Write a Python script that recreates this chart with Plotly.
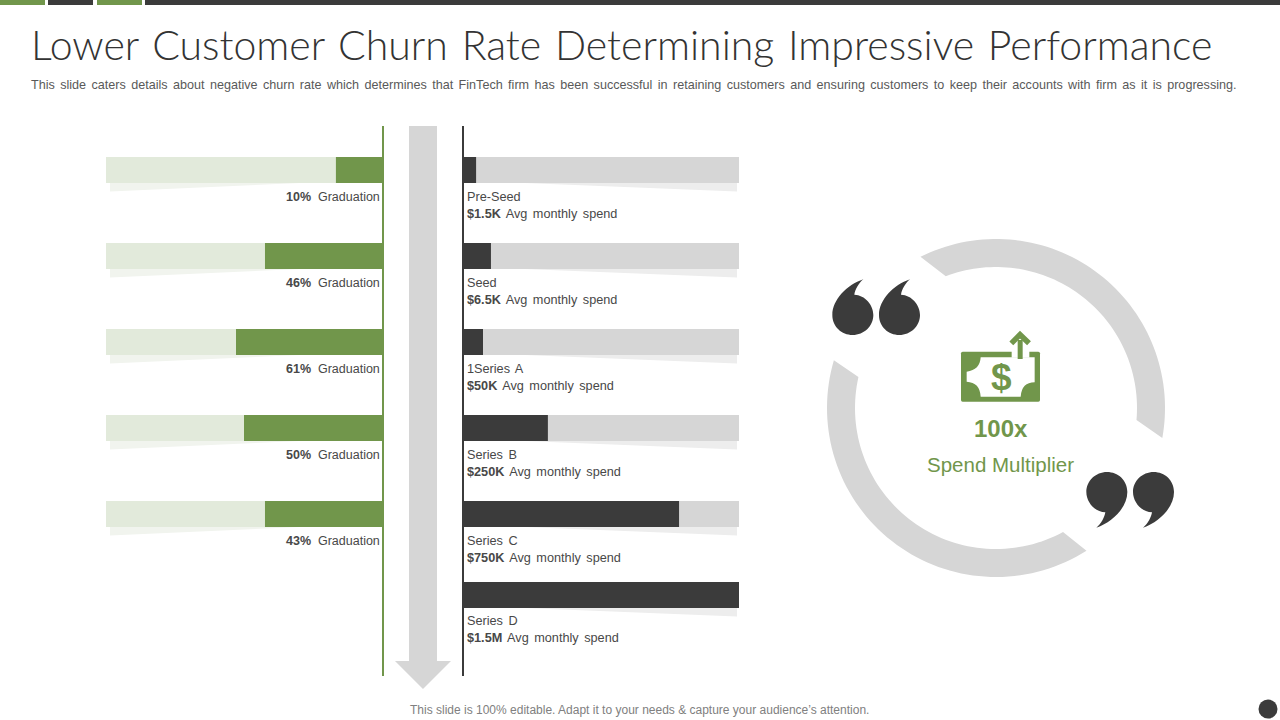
import numpy as np
import plotly.graph_objects as go

# data
stages = ['Pre-Seed', 'Seed', '1Series A', 'Series B', 'Series C', 'Series D']
spend = ['$1.5K', '$6.5K', '$50K', '$250K', '$750K', '$1.5M']
spend_bar = [4.4, 9.8, 6.9, 30.5, 78.2, 100]
grad_label = ['10%', '46%', '61%', '50%', '43%']
grad_bar = [16.7, 42.4, 52.9, 50, 42.4]

title = 'Lower Customer Churn Rate Determining Impressive Performance'
subtitle = ('This slide caters details about negative churn rate which determines that FinTech firm '
            'has been successful in retaining customers and ensuring customers to keep their accounts '
            'with firm as it is progressing.')
footer = 'This slide is 100% editable. Adapt it to your needs & capture your audience\u2019s attention.'

green = '#71964B'
pale = '#E2EADB'
dark = '#3B3B3B'
grey = '#D6D6D6'
text_col = '#484848'
W, H = 1280, 720
ROW = 86.0
BAR = 26 / ROW
# the last row sits a little closer than the others
shift = [0, 0, 0, 0, 0, -5 / ROW]
y_range = [(676 - 170) / ROW, -(170 - 126) / ROW]


def px(x, y):
    return x / W, 1 - y / H


def path(points, close=True):
    s = ''
    for i, (x, y) in enumerate(points):
        u, v = px(x, y)
        s += ('M' if i == 0 else 'L') + f'{u:.5f},{v:.5f} '
    return s + ('Z' if close else '')


def poly(points, color):
    return dict(type='path', xref='paper', yref='paper', path=path(points),
                fillcolor=color, line=dict(width=0))


def curve(cmds, color, fx=lambda p: p):
    # cmds: list of (letter, points) in slide pixels
    s = ''
    for letter, pts in cmds:
        s += letter
        s += ' '.join('%.5f,%.5f' % px(*fx(p)) for p in pts) + ' '
    return dict(type='path', xref='paper', yref='paper', path=s + 'Z',
                fillcolor=color, line=dict(width=0))


def ring_arc(start_o, end_o, start_i, end_i, cx=996, cy=408, ro=169, ri=141):
    a = np.radians(np.linspace(start_o, end_o, 70))
    b = np.radians(np.linspace(end_i, start_i, 70))
    outer = [(cx + ro * np.cos(t), cy + ro * np.sin(t)) for t in a]
    inner = [(cx + ri * np.cos(t), cy + ri * np.sin(t)) for t in b]
    return poly(outer + inner, grey)


def angle(x, y, cx=996, cy=408):
    return np.degrees(np.arctan2(y - cy, x - cx))


fig = go.Figure()

# left panel
fig.add_trace(go.Bar(y=stages[:5], x=[100] * 5, orientation='h', marker=dict(color=pale, line=dict(width=0)),
                     width=BAR, offset=[-BAR / 2 + s for s in shift[:5]], xaxis='x', yaxis='y', hoverinfo='skip'))
fig.add_trace(go.Bar(y=stages[:5], x=grad_bar, orientation='h', marker=dict(color=green, line=dict(width=0)),
                     width=BAR, offset=[-BAR / 2 + s for s in shift[:5]], xaxis='x', yaxis='y'))
# right panel
fig.add_trace(go.Bar(y=stages, x=[100] * 6, orientation='h', marker=dict(color=grey, line=dict(width=0)),
                     width=BAR, offset=[-BAR / 2 + s for s in shift], xaxis='x2', yaxis='y2', hoverinfo='skip'))
fig.add_trace(go.Bar(y=stages, x=spend_bar, orientation='h', marker=dict(color=dark, line=dict(width=0)),
                     width=BAR, offset=[-BAR / 2 + s for s in shift], xaxis='x2', yaxis='y2'))

shapes = []

# top strip
for x0, x1, c in [(0, 45, green), (48, 93, dark), (97, 142, green), (145, W, dark)]:
    shapes.append(poly([(x0, 0), (x1, 0), (x1, 5), (x0, 5)], c))

# faint wedges under the bars
for i in range(5):
    top = 183 + ROW * i
    shapes.append(poly([(110, top), (300, top), (110, top + 8.5)], '#F1F4EE'))
for i in range(6):
    top = 183 + ROW * i + shift[i] * ROW
    shapes.append(poly([(737, top), (737, top + 8.5), (525, top)], '#EDEDED'))

# big arrow
shapes.append(poly([(409, 126), (437, 126), (437, 661), (451, 661), (423, 689), (395, 661), (409, 661)], grey))

# ring
shapes.append(ring_arc(angle(920.7, 257.3), angle(1162, 438), angle(945.7, 276), angle(1136.7, 420)))
shapes.append(ring_arc(angle(1086, 550), angle(833, 360) + 360, angle(1063, 532), angle(858, 377) + 360))


# quote marks, one glyph in slide pixels
def z2(p):
    return 800 + p[0] / 3, 220 + p[1] / 3


glyph = [('M', [(190, 178)]),
         ('C', [(140, 195), (97, 240), (97, 285)]),
         ('C', [(97, 320), (125, 345), (158, 345)]),
         ('C', [(192, 345), (220, 318), (220, 285)]),
         ('C', [(220, 255), (195, 225), (163, 224)]),
         ('C', [(165, 210), (175, 190), (190, 178)])]
for dx in (0, 140):
    shapes.append(curve(glyph, dark, lambda p, d=dx: z2((p[0] + d, p[1]))))
    shapes.append(curve(glyph, dark, lambda p, d=dx: z2((1219 - p[0] - d, 1101 - p[1]))))


# money icon
def z5(p):
    return 950 + p[0] / 3, 325 + p[1] / 3


shapes.append(curve([('M', [(38, 80)]), ('L', [(265, 80)]), ('Q', [(270, 80), (270, 85)]), ('L', [(270, 225)]),
                     ('Q', [(270, 230), (265, 230)]), ('L', [(38, 230)]), ('Q', [(33, 230), (33, 225)]),
                     ('L', [(33, 85)]), ('Q', [(33, 80), (38, 80)])], green, z5))
shapes.append(curve([('M', [(92, 97)]), ('L', [(254, 97)]), ('L', [(254, 172)]), ('Q', [(215, 172), (212, 215)]),
                     ('L', [(92, 215)]), ('Q', [(90, 172), (50, 170)]), ('L', [(50, 140)]),
                     ('Q', [(90, 135), (92, 97)])], 'white', z5))
shapes.append(curve([('M', [(185, 72)]), ('L', [(238, 72)]), ('L', [(238, 98)]), ('L', [(185, 98)])], 'white', z5))
shapes.append(curve([('M', [(203, 45)]), ('L', [(218, 45)]), ('L', [(218, 102)]), ('L', [(203, 102)])], green, z5))
shapes.append(dict(type='path', xref='paper', yref='paper',
                   path=path([z5((184, 55)), z5((210, 29)), z5((237, 55))], close=False),
                   line=dict(color=green, width=5.5)))

# dot bottom right
x0, y0 = px(1258.5, 699.5)
x1, y1 = px(1277.5, 718.5)
shapes.append(dict(type='circle', xref='paper', yref='paper', x0=x0, y0=y0, x1=x1, y1=y1,
                   fillcolor=dark, line=dict(width=0)))

annotations = []


def slide_text(x, y, text, size, color=text_col, family='Liberation Sans', anchor='left', weight=None):
    u, v = px(x, y)
    font = dict(size=size, color=color, family=family)
    if weight:
        font['weight'] = weight
    annotations.append(dict(x=u, y=v, xref='paper', yref='paper', text=text, showarrow=False,
                            xanchor=anchor, yanchor='middle', align=anchor, font=font))


slide_text(28.5, 44, title, 41, '#333333', 'Lato', weight=300)
slide_text(29, 85, subtitle, 12.6, '#595959')
slide_text(639, 710, footer, 12, '#808080', anchor='center')

slide_text(1001, 428, '<b>100x</b>', 24, green, anchor='center')
slide_text(1000.5, 464.5, 'Spend Multiplier', 20.5, green, anchor='center')
slide_text(1001, 377, '<b>$</b>', 37, green, anchor='center')

for i, lab in enumerate(grad_label):
    annotations.append(dict(x=0, y=stages[i], xref='x', yref='y', xshift=0, yshift=-27, showarrow=False,
                            xanchor='right', yanchor='middle', align='right',
                            text=f'<b>{lab}</b>  Graduation',
                            font=dict(size=12.5, color=text_col, family='Liberation Sans')))
for i, st in enumerate(stages):
    annotations.append(dict(x=0, y=st, xref='x2', yref='y2', xshift=1, yshift=-29 if i == 5 else -35,
                            showarrow=False, xanchor='left', yanchor='middle', align='left',
                            text=f'{st}<br><b>{spend[i]}</b> Avg monthly spend',
                            font=dict(size=12.7, color=text_col, family='Liberation Sans')))

y_dom = [1 - 676 / H, 1 - 126 / H]
fig.update_layout(
    width=W, height=H, margin=dict(l=0, r=0, t=0, b=0), paper_bgcolor='white', plot_bgcolor='white',
    barmode='overlay', showlegend=False, shapes=shapes, annotations=annotations,
    xaxis=dict(domain=[106 / W, 382 / W], range=[100, 0], visible=False, fixedrange=True),
    xaxis2=dict(domain=[464 / W, 739 / W], range=[0, 100], visible=False, fixedrange=True),
    yaxis=dict(domain=y_dom, anchor='x', side='right', type='category', categoryorder='array', categoryarray=stages,
               range=y_range, showgrid=False, zeroline=False, showticklabels=False, ticks='',
               showline=True, linecolor=green, linewidth=2, fixedrange=True),
    yaxis2=dict(domain=y_dom, anchor='x2', side='left', type='category', categoryorder='array', categoryarray=stages,
                range=y_range, showgrid=False, zeroline=False, showticklabels=False, ticks='',
                showline=True, linecolor=dark, linewidth=2, fixedrange=True),
)

# the slide's text is justified, so its word gaps run wider than the font's
post = """
document.body.style.margin='0';document.body.style.overflow='hidden';
document.querySelectorAll('.annotation-text').forEach(function(t){
  var s=t.textContent;
  if(s.indexOf('Lower Customer')===0){t.style.wordSpacing='2.6px';}
  else if(s.indexOf('This slide caters')===0){t.style.wordSpacing='1.9px';}
  else if(s.indexOf('Avg monthly')>=0){t.style.wordSpacing='2px';}
});
"""
fig.write_html('out.html', config=dict(displayModeBar=False), post_script=post)
